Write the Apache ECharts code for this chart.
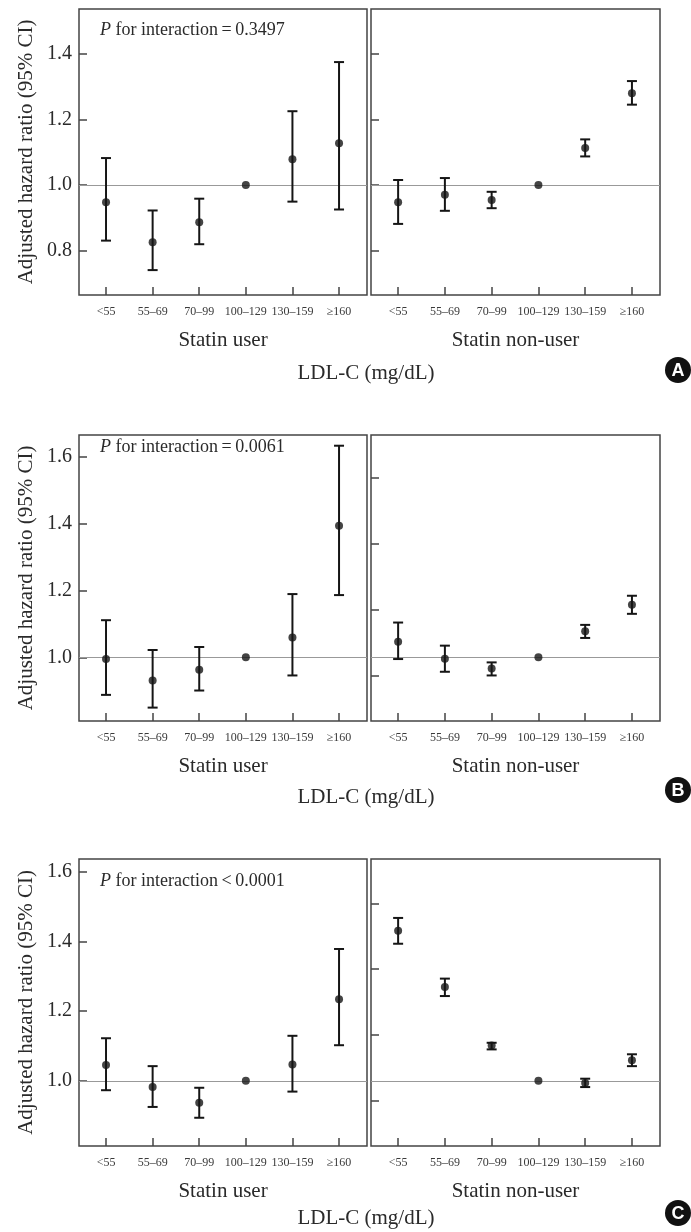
<!DOCTYPE html>
<html>
<head>
<meta charset="utf-8">
<script src="https://cdn.jsdelivr.net/npm/echarts@6/dist/echarts.min.js"></script>
<style>
  html, body { margin: 0; padding: 0; background: #fff; }
  #main { width: 691px; height: 1232px; }
</style>
</head>
<body>
<div id="main"></div>
<script>
// LDL-C groups (mg/dL)
var categories = ['<55', '55\u201369', '70\u201399', '100\u2013129', '130\u2013159', '\u2265160'];

// A: hazard ratio, lower / upper 95% CI
var aUserHr = [0.947, 0.825, 0.886, 1.0, 1.078, 1.127];
var aUserLo = [0.830, 0.740, 0.819, 1.0, 0.949, 0.925];
var aUserHi = [1.082, 0.922, 0.958, 1.0, 1.225, 1.375];
var aNonHr = [0.947, 0.970, 0.954, 1.0, 1.113, 1.280];
var aNonLo = [0.881, 0.921, 0.929, 1.0, 1.087, 1.245];
var aNonHi = [1.015, 1.021, 0.979, 1.0, 1.139, 1.317];

// B
var bUserHr = [0.995, 0.931, 0.963, 1.0, 1.059, 1.393];
var bUserLo = [0.888, 0.850, 0.901, 1.0, 0.946, 1.186];
var bUserHi = [1.111, 1.022, 1.031, 1.0, 1.189, 1.632];
var bNonHr = [1.047, 0.996, 0.967, 1.0, 1.078, 1.157];
var bNonLo = [0.995, 0.957, 0.946, 1.0, 1.058, 1.130];
var bNonHi = [1.104, 1.035, 0.985, 1.0, 1.097, 1.184];

// C
var cUserHr = [1.045, 0.982, 0.937, 1.0, 1.047, 1.234];
var cUserLo = [0.973, 0.925, 0.894, 1.0, 0.969, 1.102];
var cUserHi = [1.122, 1.042, 0.980, 1.0, 1.129, 1.378];
var cNonHr = [1.430, 1.269, 1.101, 1.0, 0.994, 1.059];
var cNonLo = [1.393, 1.243, 1.090, 1.0, 0.982, 1.042];
var cNonHi = [1.467, 1.293, 1.109, 1.0, 1.006, 1.076];

// y tick values (left panels labelled, right panels ticks only)
var yTicksLeftA = [0.8, 1.0, 1.2, 1.4];
var yTicksLeftB = [1.0, 1.2, 1.4, 1.6];
var yTicksLeftC = [1.0, 1.2, 1.4, 1.6];
var yTicksRightA = [0.8, 1.0, 1.2, 1.4];
var yTicksRightB = [0.946, 1.143, 1.340, 1.537];
var yTicksRightC = [0.944, 1.131, 1.320, 1.508];

var pValueText = ['=0.3497', '=0.0061', '<0.0001'];
var panelLetters = ['A', 'B', 'C'];
var refLine = 1.0;

var serif = '"Liberation Serif", "Times New Roman", serif';
var ink = '#151515';
var txt = '#2a2a2a';

var panels = [
  { top: 9, height: 286, yMin: 0.664, yMax: 1.537, pY: 31, ldlY: 373, tagY: 370,
    user: [aUserHr, aUserLo, aUserHi], non: [aNonHr, aNonLo, aNonHi],
    tl: yTicksLeftA, tr: yTicksRightA },
  { top: 435, height: 286, yMin: 0.810, yMax: 1.664, pY: 448, ldlY: 797, tagY: 790,
    user: [bUserHr, bUserLo, bUserHi], non: [bNonHr, bNonLo, bNonHi],
    tl: yTicksLeftB, tr: yTicksRightB },
  { top: 859, height: 287, yMin: 0.813, yMax: 1.636, pY: 882, ldlY: 1218, tagY: 1213,
    user: [cUserHr, cUserLo, cUserHi], non: [cNonHr, cNonLo, cNonHi],
    tl: yTicksLeftC, tr: yTicksRightC }
];

// vertical CI bar with caps; reference group (lo == hi) gets none
function renderErr(params, api) {
  var x = api.value(0), lo = api.value(1), hi = api.value(2);
  if (lo === hi) return null;
  var t = api.coord([x, hi]), b = api.coord([x, lo]);
  var w = 5, st = { stroke: ink, lineWidth: 2 };
  return {
    type: 'group',
    children: [
      { type: 'line', shape: { x1: t[0], y1: t[1], x2: b[0], y2: b[1] }, style: st },
      { type: 'line', shape: { x1: t[0] - w, y1: t[1], x2: t[0] + w, y2: t[1] }, style: st },
      { type: 'line', shape: { x1: b[0] - w, y1: b[1], x2: b[0] + w, y2: b[1] }, style: st }
    ]
  };
}

var grids = [], xAxes = [], yAxes = [], series = [], graphics = [];
var idx = [0, 1, 2, 3, 4, 5];

panels.forEach(function (p, k) {
  [0, 1].forEach(function (side) {
    var g = grids.length;
    grids.push({
      left: side === 0 ? 79 : 371, top: p.top,
      width: side === 0 ? 288 : 289, height: p.height,
      show: true, borderColor: '#444', borderWidth: 1.5, backgroundColor: '#fff'
    });
    xAxes.push({
      type: 'value', gridIndex: g, min: -0.58, max: 5.6, position: 'bottom',
      splitLine: { show: false }, axisLine: { show: false, onZero: false },
      axisTick: { inside: true, length: 8, customValues: idx, lineStyle: { color: '#444', width: 1.5 } },
      axisLabel: {
        customValues: idx, margin: 11, color: '#3a3a3a', fontFamily: serif, fontSize: 12,
        formatter: function (v) { return categories[Math.round(v)]; }
      },
      name: side === 0 ? 'Statin user' : 'Statin non-user',
      nameLocation: 'middle', nameGap: 35,
      nameTextStyle: { color: txt, fontFamily: serif, fontSize: 21 }
    });
    var ticks = side === 0 ? p.tl : p.tr;
    yAxes.push({
      type: 'value', gridIndex: g, min: p.yMin, max: p.yMax, position: 'left',
      splitLine: { show: false }, axisLine: { show: false, onZero: false },
      axisTick: { inside: true, length: 8, customValues: ticks, lineStyle: { color: '#444', width: 1.5 } },
      axisLabel: {
        show: side === 0, customValues: ticks, margin: 7,
        color: txt, fontFamily: serif, fontSize: 20,
        formatter: function (v) { return v.toFixed(1); }
      },
      name: side === 0 ? 'Adjusted hazard ratio (95% CI)' : '',
      nameLocation: 'middle', nameGap: 42,
      nameTextStyle: { color: txt, fontFamily: serif, fontSize: 21 }
    });
    var d = side === 0 ? p.user : p.non;
    series.push({
      type: 'custom', xAxisIndex: g, yAxisIndex: g, renderItem: renderErr, z: 3,
      data: idx.map(function (i) { return [i, d[1][i], d[2][i]]; })
    });
    series.push({
      type: 'scatter', xAxisIndex: g, yAxisIndex: g, symbolSize: 8, z: 4,
      itemStyle: { color: ink },
      data: idx.map(function (i) { return [i, d[0][i]]; }),
      markLine: {
        silent: true, symbol: 'none', label: { show: false }, z: 2,
        lineStyle: { color: '#999', width: 1, type: 'solid' },
        data: [{ yAxis: refLine }]
      }
    });
  });

  graphics.push({
    type: 'text', left: 100, top: p.pY - 10, z: 10,
    style: {
      text: '{i|P} for interaction\u2009' + pValueText[k].charAt(0) + '\u2009' + pValueText[k].slice(1),
      fill: txt, font: '18px ' + serif,
      rich: { i: { fontStyle: 'italic', fontSize: 18, fontFamily: serif, fill: txt } }
    }
  });
  graphics.push({
    type: 'text', x: 366, y: p.ldlY, z: 10,
    style: { text: 'LDL-C (mg/dL)', fill: txt, font: '21px ' + serif, align: 'center', verticalAlign: 'middle' }
  });
  graphics.push({
    type: 'circle', shape: { cx: 678, cy: p.tagY, r: 13 }, z: 10, style: { fill: '#111' }
  });
  graphics.push({
    type: 'text', x: 678, y: p.tagY + 1, z: 11,
    style: { text: panelLetters[k], fill: '#fff', font: 'bold 18px "Liberation Sans", Arial, sans-serif', align: 'center', verticalAlign: 'middle' }
  });
});

var chart = echarts.init(document.getElementById('main'));
chart.setOption({
  animation: false,
  backgroundColor: '#fff',
  grid: grids,
  xAxis: xAxes,
  yAxis: yAxes,
  series: series,
  graphic: graphics
});
</script>
</body>
</html>
